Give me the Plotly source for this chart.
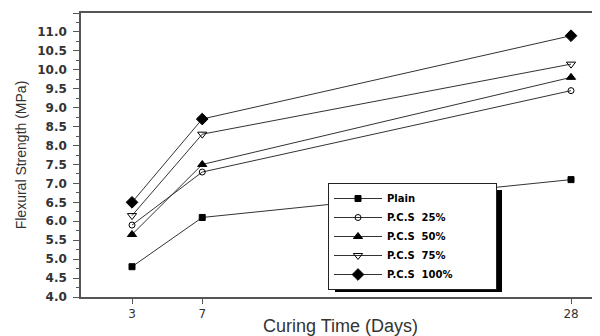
import plotly.graph_objects as go

days = [3, 7, 28]
series_names = ["Plain", "P.C.S  25%", "P.C.S  50%", "P.C.S  75%", "P.C.S  100%"]
plain = [4.8, 6.1, 7.1]
pcs25 = [5.9, 7.3, 9.45]
pcs50 = [5.65, 7.5, 9.8]
pcs75 = [6.15, 8.3, 10.15]
pcs100 = [6.5, 8.7, 10.9]
y_ticks = [4.0, 4.5, 5.0, 5.5, 6.0, 6.5, 7.0, 7.5, 8.0, 8.5, 9.0, 9.5, 10.0, 10.5, 11.0, 11.5]

values = [plain, pcs25, pcs50, pcs75, pcs100]
symbols = ["square", "circle-open", "triangle-up", "triangle-down-open", "diamond"]
sizes = [6, 6, 8, 8, 9]

PAD = "\u00a0" * 11  # widen the legend box to match the reference

fig = go.Figure()
for i, (name, vals, sym, sz) in enumerate(zip(series_names, values, symbols, sizes)):
    fig.add_trace(go.Scatter(
        x=days, y=vals, name=name + (PAD if i == len(series_names) - 1 else ""),
        mode="lines+markers",
        line=dict(color="#333333", width=1),
        marker=dict(symbol=sym, size=sz, color="black", line=dict(color="black", width=1)),
    ))

# page body has ~8px margin; work in screen coordinates and subtract it
OFF = 8
W, H = 600 - OFF, 336 - OFF
L, R, T, B = 81 - OFF, 0, 13 - OFF, 39
pw, ph = W - L - R, H - T - B

def px_to_paper_x(sx):
    return (sx - OFF - L) / pw

def px_to_paper_y(sy):
    return (H - B - (sy - OFF)) / ph

# shadow behind the legend box
fig.add_shape(type="rect", xref="paper", yref="paper",
              x0=px_to_paper_x(335), x1=px_to_paper_x(502),
              y0=px_to_paper_y(292), y1=px_to_paper_y(190),
              fillcolor="black", line=dict(width=0), layer="above")

fig.update_layout(
    width=W, height=H,
    margin=dict(l=L, r=R, t=T, b=B, autoexpand=False),
    plot_bgcolor="white", paper_bgcolor="white",
    font=dict(family="Liberation Sans, Arial", color="#333333"),
    legend=dict(
        x=px_to_paper_x(328), y=px_to_paper_y(183), xanchor="left", yanchor="top",
        bgcolor="white", bordercolor="#222222", borderwidth=1,
        font=dict(family="DejaVu Sans", size=10, color="black", weight="bold"),
        tracegroupgap=0, itemwidth=48,
    ),
    xaxis=dict(
        range=[0.096, 29.65], tickvals=days, ticktext=[str(d) for d in days],
        showgrid=False, zeroline=False, showline=True, linecolor="#555555", linewidth=1.5,
        mirror=True, ticks="outside", ticklen=5, tickcolor="#555555",
        tickfont=dict(size=12, family="DejaVu Sans", color="#333333"),
        title=dict(text="Curing Time (Days)", font=dict(size=18, family="Liberation Sans"), standoff=4),
    ),
    yaxis=dict(
        range=[4.0, 11.5], tickvals=y_ticks, ticktext=[f"{v:.1f}" for v in y_ticks],
        showgrid=False, zeroline=False, showline=True, linecolor="#555555", linewidth=1.5,
        ticks="outside", ticklen=6, tickcolor="#555555", ticklabelstandoff=4,
        minor=dict(dtick=0.25, ticks="outside", ticklen=3, tickcolor="#555555", showgrid=False),
        tickfont=dict(size=12, family="DejaVu Sans", color="#333333", weight="bold"),
        title=dict(text="Flexural Strength (MPa)", font=dict(size=14, family="Liberation Sans"), standoff=7),
    ),
    showlegend=True,
)

fig.write_html("out.html")
